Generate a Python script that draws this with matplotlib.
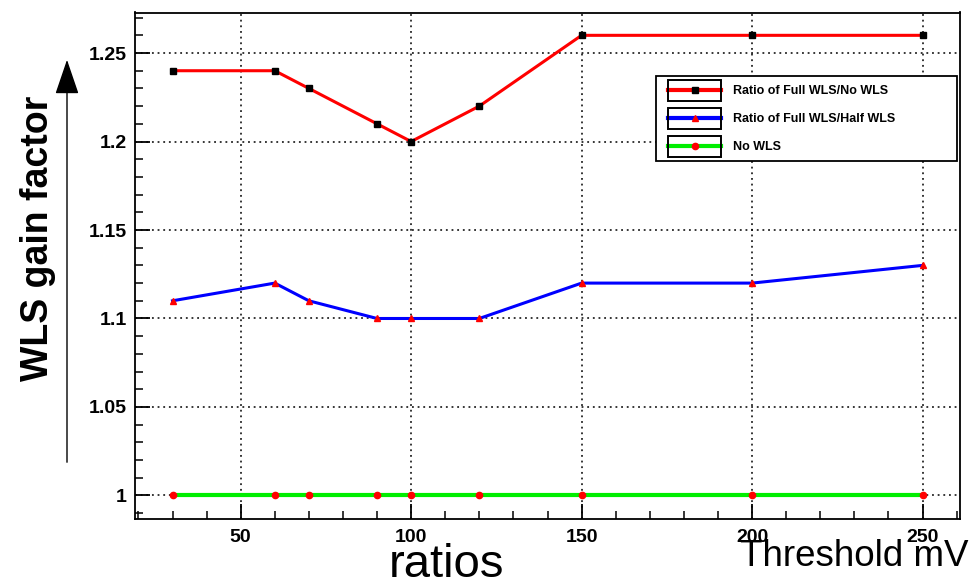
import matplotlib
matplotlib.use("Agg")
import matplotlib.pyplot as plt
from matplotlib.legend_handler import HandlerBase
from matplotlib.lines import Line2D
from matplotlib.patches import Rectangle, FancyArrowPatch
from matplotlib.ticker import MultipleLocator, FuncFormatter

thresholds = [30, 60, 70, 90, 100, 120, 150, 200, 250]
full_over_no = [1.24, 1.24, 1.23, 1.21, 1.20, 1.22, 1.26, 1.26, 1.26]
full_over_half = [1.11, 1.12, 1.11, 1.10, 1.10, 1.10, 1.12, 1.12, 1.13]
no_wls = [1.0, 1.0, 1.0, 1.0, 1.0, 1.0, 1.0, 1.0, 1.0]
series_labels = ["Ratio of Full WLS/No WLS", "Ratio of Full WLS/Half WLS", "No WLS"]

plt.rcParams['font.family'] = ['Liberation Sans', 'DejaVu Sans']

W, H = 971, 581
fig = plt.figure(figsize=(W / 100, H / 100), dpi=100)
ax = fig.add_axes([135 / W, 1 - 519 / H, (960 - 135) / W, (519 - 12.5) / H])

l1, = ax.plot(thresholds, full_over_no, color='#ff0000', lw=2.2, marker='s',
              ms=4.5, mfc='black', mec='black', zorder=5)
l2, = ax.plot(thresholds, full_over_half, color='#0000ff', lw=2.2, marker='^',
              ms=5, mfc='#ff0000', mec='#ff0000', zorder=5)
l3, = ax.plot(thresholds, no_wls, color='#00ee00', lw=3.0, marker='o',
              ms=4.5, mfc='#ff0000', mec='#ff0000', zorder=5)

ax.set_xlim(19, 261)
ax.set_ylim(0.9867, 1.2729)
ax.xaxis.set_major_locator(MultipleLocator(50))
ax.xaxis.set_minor_locator(MultipleLocator(10))
ax.yaxis.set_major_locator(MultipleLocator(0.05))
ax.yaxis.set_minor_locator(MultipleLocator(0.01))
ax.yaxis.set_major_formatter(FuncFormatter(lambda v, p: ('%.2f' % v).rstrip('0').rstrip('.')))

ax.tick_params(which='major', direction='in', length=11, width=1.3, labelsize=14,
               top=False, right=False)
ax.tick_params(which='minor', direction='in', length=6, width=1.1, top=False, right=False)
ax.tick_params(axis='x', pad=7)
ax.tick_params(axis='y', pad=6)
for lab in ax.get_xticklabels() + ax.get_yticklabels():
    lab.set_fontweight('bold')
for s in ax.spines.values():
    s.set_linewidth(1.3)

ax.grid(True, which='major', color='black', linestyle=(0, (1.2, 2.5)), linewidth=1.1)
ax.set_axisbelow(True)


class BoxedLine(HandlerBase):
    def create_artists(self, legend, orig_handle, xdescent, ydescent, width, height, fontsize, trans):
        off = 0.13 * width
        x0 = -xdescent + off
        x1 = -xdescent + width
        yc = -ydescent + height / 2
        rect = Rectangle((x0, -ydescent), x1 - x0, height, fill=False, ec='black', lw=1.4, transform=trans)
        line = Line2D([x0, x1], [yc, yc], color=orig_handle.get_color(), lw=3.0, transform=trans)
        mk = Line2D([(x0 + x1) / 2], [yc], linestyle='none', marker=orig_handle.get_marker(),
                    ms=orig_handle.get_markersize(), mfc=orig_handle.get_markerfacecolor(),
                    mec=orig_handle.get_markeredgecolor(), transform=trans)
        return [line, rect, mk]


leg = ax.legend([l1, l2, l3], series_labels, loc='upper left',
                bbox_to_anchor=(656 / W, 1 - 160 / H, (957 - 656) / W, (160 - 76) / H),
                bbox_transform=fig.transFigure, mode='expand', borderaxespad=0,
                prop={'weight': 'bold', 'size': 9}, handlelength=4.9, handleheight=2.2,
                handletextpad=0.95, labelspacing=0.55, borderpad=0.32, fancybox=False,
                edgecolor='black', framealpha=1,
                handler_map={Line2D: BoxedLine()})
leg.get_frame().set_linewidth(1.3)

fig.text(38 / W, 1 - 238 / H, "WLS gain factor", rotation=90, ha='center', va='center',
         fontsize=27, fontweight='bold')
arrow = FancyArrowPatch((67 / W, 1 - 465 / H), (67 / W, 1 - 57 / H), transform=fig.transFigure,
                        arrowstyle='-|>,head_length=2.2,head_width=0.75', mutation_scale=10,
                        lw=1.0, color='black')
fig.add_artist(arrow)

fig.text(446 / W, 1 - 565 / H, "ratios", ha='center', va='center', fontsize=34)
fig.text(968 / W, 1 - 557 / H, "Threshold mV", ha='right', va='center', fontsize=26.5)

fig.savefig("out.png", dpi=100)
